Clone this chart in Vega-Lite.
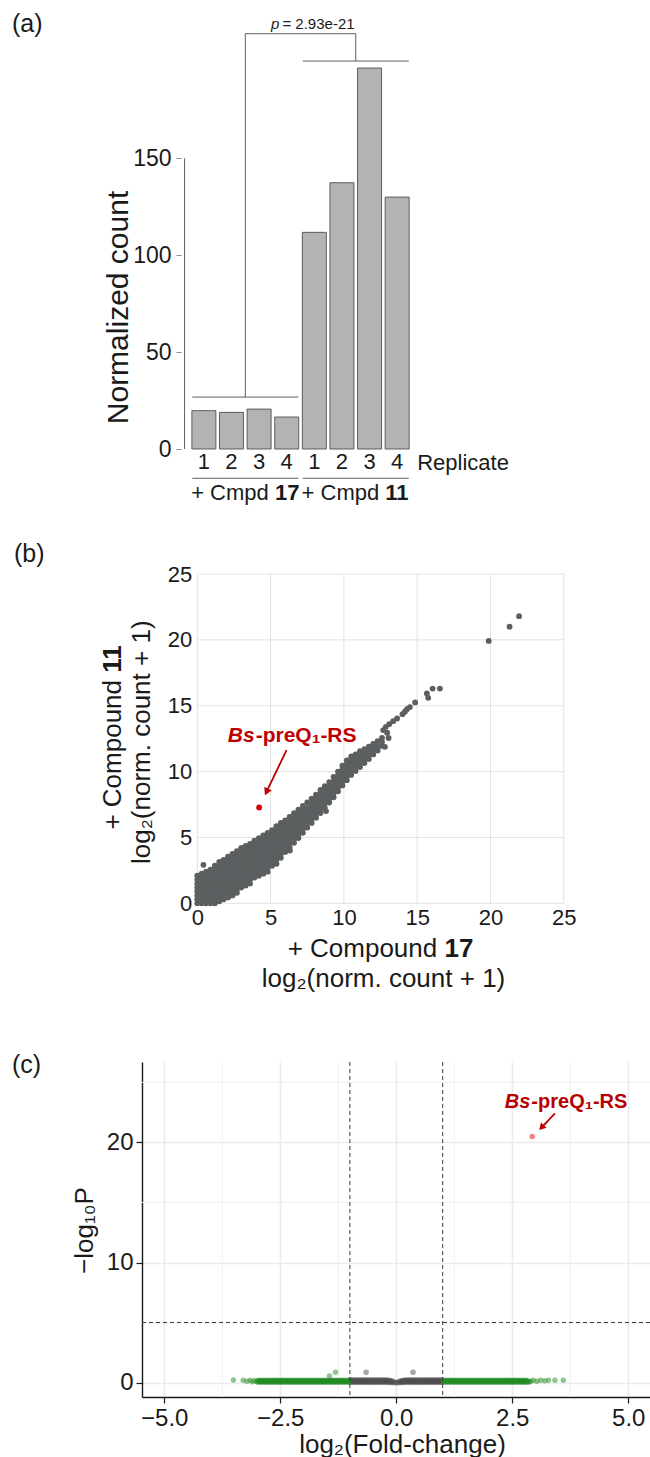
{
"$schema": "https://vega.github.io/schema/vega-lite/v6.json",
"autosize": {"type": "none"},
"padding": {"left": 142, "top": 0, "right": 508, "bottom": 1457},
"spacing": 0,
"bounds": "flush",
"config": {
 "font": "Liberation Sans",
 "view": {"stroke": null},
 "axis": {"labelColor": "#1a1a1a", "titleColor": "#1a1a1a", "titleFontWeight": "normal", "labelFlush": false, "labelOverlap": false, "labelBound": false},
 "title": {"fontWeight": "normal", "color": "#1a1a1a"}
},
"datasets": {
 "bars": [
  {"compound": "17", "replicate": "1", "idx": 1, "count": 19.8},
  {"compound": "17", "replicate": "2", "idx": 2, "count": 18.9},
  {"compound": "17", "replicate": "3", "idx": 3, "count": 20.6},
  {"compound": "17", "replicate": "4", "idx": 4, "count": 16.5},
  {"compound": "11", "replicate": "1", "idx": 5, "count": 111.8},
  {"compound": "11", "replicate": "2", "idx": 6, "count": 137.4},
  {"compound": "11", "replicate": "3", "idx": 7, "count": 196.6},
  {"compound": "11", "replicate": "4", "idx": 8, "count": 130.0}
 ],
 "volcano_ns": [
  {"lfc":-0.98,"nlp":0.02},{"lfc":-0.98,"nlp":0.22},{"lfc":-0.94,"nlp":0.05},{"lfc":-0.94,"nlp":0.19},{"lfc":-0.9,"nlp":0.02},{"lfc":-0.9,"nlp":0.22},{"lfc":-0.86,"nlp":0.05},{"lfc":-0.86,"nlp":0.19},
  {"lfc":-0.82,"nlp":0.02},{"lfc":-0.82,"nlp":0.22},{"lfc":-0.78,"nlp":0.05},{"lfc":-0.78,"nlp":0.19},{"lfc":-0.74,"nlp":0.02},{"lfc":-0.74,"nlp":0.22},{"lfc":-0.7,"nlp":0.05},{"lfc":-0.7,"nlp":0.19},
  {"lfc":-0.66,"nlp":0.02},{"lfc":-0.66,"nlp":0.22},{"lfc":-0.62,"nlp":0.05},{"lfc":-0.62,"nlp":0.19},{"lfc":-0.58,"nlp":0.02},{"lfc":-0.58,"nlp":0.22},{"lfc":-0.54,"nlp":0.05},{"lfc":-0.54,"nlp":0.19},
  {"lfc":-0.5,"nlp":0.02},{"lfc":-0.5,"nlp":0.22},{"lfc":-0.46,"nlp":0.05},{"lfc":-0.46,"nlp":0.19},{"lfc":-0.42,"nlp":0.02},{"lfc":-0.42,"nlp":0.22},{"lfc":-0.38,"nlp":0.05},{"lfc":-0.38,"nlp":0.19},
  {"lfc":-0.34,"nlp":0.02},{"lfc":-0.34,"nlp":0.22},{"lfc":-0.3,"nlp":0.05},{"lfc":-0.3,"nlp":0.19},{"lfc":-0.26,"nlp":0.02},{"lfc":-0.26,"nlp":0.22},{"lfc":-0.22,"nlp":0.05},{"lfc":-0.22,"nlp":0.19},
  {"lfc":-0.18,"nlp":0.02},{"lfc":-0.18,"nlp":0.21},{"lfc":-0.14,"nlp":0.04},{"lfc":-0.14,"nlp":0.17},{"lfc":-0.1,"nlp":0.02},{"lfc":-0.1,"nlp":0.14},{"lfc":-0.06,"nlp":0.01},{"lfc":-0.06,"nlp":0.08},
  {"lfc":-0.02,"nlp":0.0},{"lfc":0.02,"nlp":0.0},{"lfc":0.06,"nlp":0.01},{"lfc":0.06,"nlp":0.08},{"lfc":0.1,"nlp":0.02},{"lfc":0.1,"nlp":0.14},{"lfc":0.14,"nlp":0.04},{"lfc":0.14,"nlp":0.17},
  {"lfc":0.18,"nlp":0.02},{"lfc":0.18,"nlp":0.21},{"lfc":0.22,"nlp":0.05},{"lfc":0.22,"nlp":0.19},{"lfc":0.26,"nlp":0.02},{"lfc":0.26,"nlp":0.22},{"lfc":0.3,"nlp":0.05},{"lfc":0.3,"nlp":0.19},
  {"lfc":0.34,"nlp":0.02},{"lfc":0.34,"nlp":0.22},{"lfc":0.38,"nlp":0.05},{"lfc":0.38,"nlp":0.19},{"lfc":0.42,"nlp":0.02},{"lfc":0.42,"nlp":0.22},{"lfc":0.46,"nlp":0.05},{"lfc":0.46,"nlp":0.19},
  {"lfc":0.5,"nlp":0.02},{"lfc":0.5,"nlp":0.22},{"lfc":0.54,"nlp":0.05},{"lfc":0.54,"nlp":0.19},{"lfc":0.58,"nlp":0.02},{"lfc":0.58,"nlp":0.22},{"lfc":0.62,"nlp":0.05},{"lfc":0.62,"nlp":0.19},
  {"lfc":0.66,"nlp":0.02},{"lfc":0.66,"nlp":0.22},{"lfc":0.7,"nlp":0.05},{"lfc":0.7,"nlp":0.19},{"lfc":0.74,"nlp":0.02},{"lfc":0.74,"nlp":0.22},{"lfc":0.78,"nlp":0.05},{"lfc":0.78,"nlp":0.19},
  {"lfc":0.82,"nlp":0.02},{"lfc":0.82,"nlp":0.22},{"lfc":0.86,"nlp":0.05},{"lfc":0.86,"nlp":0.19},{"lfc":0.9,"nlp":0.02},{"lfc":0.9,"nlp":0.22},{"lfc":0.94,"nlp":0.05},{"lfc":0.94,"nlp":0.19},
  {"lfc":0.98,"nlp":0.02},{"lfc":0.98,"nlp":0.22},
  {"lfc":-0.96,"nlp":0.12},{"lfc":-0.92,"nlp":0.12},{"lfc":-0.88,"nlp":0.12},{"lfc":-0.84,"nlp":0.12},{"lfc":-0.8,"nlp":0.12},{"lfc":-0.76,"nlp":0.12},{"lfc":-0.72,"nlp":0.12},{"lfc":-0.68,"nlp":0.12},
  {"lfc":-0.64,"nlp":0.12},{"lfc":-0.6,"nlp":0.12},{"lfc":-0.56,"nlp":0.12},{"lfc":-0.52,"nlp":0.12},{"lfc":-0.48,"nlp":0.12},{"lfc":-0.44,"nlp":0.12},{"lfc":-0.4,"nlp":0.12},{"lfc":-0.36,"nlp":0.12},
  {"lfc":-0.32,"nlp":0.12},{"lfc":-0.28,"nlp":0.12},{"lfc":-0.24,"nlp":0.12},{"lfc":-0.2,"nlp":0.12},{"lfc":-0.16,"nlp":0.1},{"lfc":-0.12,"nlp":0.08},
  {"lfc":0.12,"nlp":0.08},{"lfc":0.16,"nlp":0.1},{"lfc":0.2,"nlp":0.12},{"lfc":0.24,"nlp":0.12},{"lfc":0.28,"nlp":0.12},{"lfc":0.32,"nlp":0.12},{"lfc":0.36,"nlp":0.12},{"lfc":0.4,"nlp":0.12},
  {"lfc":0.44,"nlp":0.12},{"lfc":0.48,"nlp":0.12},{"lfc":0.52,"nlp":0.12},{"lfc":0.56,"nlp":0.12},{"lfc":0.6,"nlp":0.12},{"lfc":0.64,"nlp":0.12},{"lfc":0.68,"nlp":0.12},{"lfc":0.72,"nlp":0.12},
  {"lfc":0.76,"nlp":0.12},{"lfc":0.8,"nlp":0.12},{"lfc":0.84,"nlp":0.12},{"lfc":0.88,"nlp":0.12},{"lfc":0.92,"nlp":0.12},{"lfc":0.96,"nlp":0.12},
  {"lfc":-0.65,"nlp":0.86},{"lfc":0.36,"nlp":0.86}
 ],
 "volcano_fc": [
  {"lfc":-3.51,"nlp":0.22},{"lfc":-3.3,"nlp":0.2},{"lfc":-3.22,"nlp":0.12},{"lfc":-3.15,"nlp":0.2},{"lfc":-3.1,"nlp":0.06},{"lfc":-3.05,"nlp":0.18},{"lfc":-3.01,"nlp":0.1},
  {"lfc":-2.98,"nlp":0.03},{"lfc":-2.98,"nlp":0.18},{"lfc":-2.94,"nlp":0.05},{"lfc":-2.94,"nlp":0.2},{"lfc":-2.9,"nlp":0.03},{"lfc":-2.9,"nlp":0.18},{"lfc":-2.86,"nlp":0.05},{"lfc":-2.86,"nlp":0.2},
  {"lfc":-2.82,"nlp":0.03},{"lfc":-2.82,"nlp":0.18},{"lfc":-2.78,"nlp":0.05},{"lfc":-2.78,"nlp":0.2},{"lfc":-2.74,"nlp":0.03},{"lfc":-2.74,"nlp":0.18},{"lfc":-2.7,"nlp":0.05},{"lfc":-2.7,"nlp":0.2},
  {"lfc":-2.66,"nlp":0.03},{"lfc":-2.66,"nlp":0.18},{"lfc":-2.62,"nlp":0.05},{"lfc":-2.62,"nlp":0.2},{"lfc":-2.58,"nlp":0.03},{"lfc":-2.58,"nlp":0.18},{"lfc":-2.54,"nlp":0.05},{"lfc":-2.54,"nlp":0.2},
  {"lfc":-2.5,"nlp":0.03},{"lfc":-2.5,"nlp":0.18},{"lfc":-2.46,"nlp":0.05},{"lfc":-2.46,"nlp":0.2},{"lfc":-2.42,"nlp":0.03},{"lfc":-2.42,"nlp":0.18},{"lfc":-2.38,"nlp":0.05},{"lfc":-2.38,"nlp":0.2},
  {"lfc":-2.34,"nlp":0.03},{"lfc":-2.34,"nlp":0.18},{"lfc":-2.3,"nlp":0.05},{"lfc":-2.3,"nlp":0.2},{"lfc":-2.26,"nlp":0.03},{"lfc":-2.26,"nlp":0.18},{"lfc":-2.22,"nlp":0.05},{"lfc":-2.22,"nlp":0.2},
  {"lfc":-2.18,"nlp":0.03},{"lfc":-2.18,"nlp":0.18},{"lfc":-2.14,"nlp":0.05},{"lfc":-2.14,"nlp":0.2},{"lfc":-2.1,"nlp":0.03},{"lfc":-2.1,"nlp":0.18},{"lfc":-2.06,"nlp":0.05},{"lfc":-2.06,"nlp":0.2},
  {"lfc":-2.02,"nlp":0.03},{"lfc":-2.02,"nlp":0.18},{"lfc":-1.98,"nlp":0.05},{"lfc":-1.98,"nlp":0.2},{"lfc":-1.94,"nlp":0.03},{"lfc":-1.94,"nlp":0.18},{"lfc":-1.9,"nlp":0.05},{"lfc":-1.9,"nlp":0.2},
  {"lfc":-1.86,"nlp":0.03},{"lfc":-1.86,"nlp":0.18},{"lfc":-1.82,"nlp":0.05},{"lfc":-1.82,"nlp":0.2},{"lfc":-1.78,"nlp":0.03},{"lfc":-1.78,"nlp":0.18},{"lfc":-1.74,"nlp":0.05},{"lfc":-1.74,"nlp":0.2},
  {"lfc":-1.7,"nlp":0.03},{"lfc":-1.7,"nlp":0.18},{"lfc":-1.66,"nlp":0.05},{"lfc":-1.66,"nlp":0.2},{"lfc":-1.62,"nlp":0.03},{"lfc":-1.62,"nlp":0.18},{"lfc":-1.58,"nlp":0.05},{"lfc":-1.58,"nlp":0.2},
  {"lfc":-1.54,"nlp":0.03},{"lfc":-1.54,"nlp":0.18},{"lfc":-1.5,"nlp":0.05},{"lfc":-1.5,"nlp":0.2},{"lfc":-1.46,"nlp":0.03},{"lfc":-1.46,"nlp":0.18},{"lfc":-1.42,"nlp":0.05},{"lfc":-1.42,"nlp":0.2},
  {"lfc":-1.38,"nlp":0.03},{"lfc":-1.38,"nlp":0.18},{"lfc":-1.34,"nlp":0.05},{"lfc":-1.34,"nlp":0.2},{"lfc":-1.3,"nlp":0.03},{"lfc":-1.3,"nlp":0.18},{"lfc":-1.26,"nlp":0.05},{"lfc":-1.26,"nlp":0.2},
  {"lfc":-1.22,"nlp":0.03},{"lfc":-1.22,"nlp":0.18},{"lfc":-1.18,"nlp":0.05},{"lfc":-1.18,"nlp":0.2},{"lfc":-1.14,"nlp":0.03},{"lfc":-1.14,"nlp":0.18},{"lfc":-1.1,"nlp":0.05},{"lfc":-1.1,"nlp":0.2},
  {"lfc":-1.06,"nlp":0.03},{"lfc":-1.06,"nlp":0.18},{"lfc":-1.02,"nlp":0.05},{"lfc":-1.02,"nlp":0.2},
  {"lfc":-2.96,"nlp":0.12},{"lfc":-2.92,"nlp":0.12},{"lfc":-2.88,"nlp":0.12},{"lfc":-2.84,"nlp":0.12},{"lfc":-2.8,"nlp":0.12},{"lfc":-2.76,"nlp":0.12},{"lfc":-2.72,"nlp":0.12},{"lfc":-2.68,"nlp":0.12},
  {"lfc":-2.64,"nlp":0.12},{"lfc":-2.6,"nlp":0.12},{"lfc":-2.56,"nlp":0.12},{"lfc":-2.52,"nlp":0.12},{"lfc":-2.48,"nlp":0.12},{"lfc":-2.44,"nlp":0.12},{"lfc":-2.4,"nlp":0.12},{"lfc":-2.36,"nlp":0.12},
  {"lfc":-2.32,"nlp":0.12},{"lfc":-2.28,"nlp":0.12},{"lfc":-2.24,"nlp":0.12},{"lfc":-2.2,"nlp":0.12},{"lfc":-2.16,"nlp":0.12},{"lfc":-2.12,"nlp":0.12},{"lfc":-2.08,"nlp":0.12},{"lfc":-2.04,"nlp":0.12},
  {"lfc":-2.0,"nlp":0.12},{"lfc":-1.96,"nlp":0.12},{"lfc":-1.92,"nlp":0.12},{"lfc":-1.88,"nlp":0.12},{"lfc":-1.84,"nlp":0.12},{"lfc":-1.8,"nlp":0.12},{"lfc":-1.76,"nlp":0.12},{"lfc":-1.72,"nlp":0.12},
  {"lfc":-1.68,"nlp":0.12},{"lfc":-1.64,"nlp":0.12},{"lfc":-1.6,"nlp":0.12},{"lfc":-1.56,"nlp":0.12},{"lfc":-1.52,"nlp":0.12},{"lfc":-1.48,"nlp":0.12},{"lfc":-1.44,"nlp":0.12},{"lfc":-1.4,"nlp":0.12},
  {"lfc":-1.36,"nlp":0.12},{"lfc":-1.32,"nlp":0.12},{"lfc":-1.28,"nlp":0.12},{"lfc":-1.24,"nlp":0.12},{"lfc":-1.2,"nlp":0.12},{"lfc":-1.16,"nlp":0.12},{"lfc":-1.12,"nlp":0.12},{"lfc":-1.08,"nlp":0.12},
  {"lfc":-1.04,"nlp":0.12},
  {"lfc":-1.31,"nlp":0.86},{"lfc":-1.44,"nlp":0.55},
  {"lfc":1.02,"nlp":0.05},{"lfc":1.02,"nlp":0.2},{"lfc":1.06,"nlp":0.03},{"lfc":1.06,"nlp":0.18},{"lfc":1.1,"nlp":0.05},{"lfc":1.1,"nlp":0.2},{"lfc":1.14,"nlp":0.03},{"lfc":1.14,"nlp":0.18},
  {"lfc":1.18,"nlp":0.05},{"lfc":1.18,"nlp":0.2},{"lfc":1.22,"nlp":0.03},{"lfc":1.22,"nlp":0.18},{"lfc":1.26,"nlp":0.05},{"lfc":1.26,"nlp":0.2},{"lfc":1.3,"nlp":0.03},{"lfc":1.3,"nlp":0.18},
  {"lfc":1.34,"nlp":0.05},{"lfc":1.34,"nlp":0.2},{"lfc":1.38,"nlp":0.03},{"lfc":1.38,"nlp":0.18},{"lfc":1.42,"nlp":0.05},{"lfc":1.42,"nlp":0.2},{"lfc":1.46,"nlp":0.03},{"lfc":1.46,"nlp":0.18},
  {"lfc":1.5,"nlp":0.05},{"lfc":1.5,"nlp":0.2},{"lfc":1.54,"nlp":0.03},{"lfc":1.54,"nlp":0.18},{"lfc":1.58,"nlp":0.05},{"lfc":1.58,"nlp":0.2},{"lfc":1.62,"nlp":0.03},{"lfc":1.62,"nlp":0.18},
  {"lfc":1.66,"nlp":0.05},{"lfc":1.66,"nlp":0.2},{"lfc":1.7,"nlp":0.03},{"lfc":1.7,"nlp":0.18},{"lfc":1.74,"nlp":0.05},{"lfc":1.74,"nlp":0.2},{"lfc":1.78,"nlp":0.03},{"lfc":1.78,"nlp":0.18},
  {"lfc":1.82,"nlp":0.05},{"lfc":1.82,"nlp":0.2},{"lfc":1.86,"nlp":0.03},{"lfc":1.86,"nlp":0.18},{"lfc":1.9,"nlp":0.05},{"lfc":1.9,"nlp":0.2},{"lfc":1.94,"nlp":0.03},{"lfc":1.94,"nlp":0.18},
  {"lfc":1.98,"nlp":0.05},{"lfc":1.98,"nlp":0.2},{"lfc":2.02,"nlp":0.03},{"lfc":2.02,"nlp":0.18},{"lfc":2.06,"nlp":0.05},{"lfc":2.06,"nlp":0.2},{"lfc":2.1,"nlp":0.03},{"lfc":2.1,"nlp":0.18},
  {"lfc":2.14,"nlp":0.05},{"lfc":2.14,"nlp":0.2},{"lfc":2.18,"nlp":0.03},{"lfc":2.18,"nlp":0.18},{"lfc":2.22,"nlp":0.05},{"lfc":2.22,"nlp":0.2},{"lfc":2.26,"nlp":0.03},{"lfc":2.26,"nlp":0.18},
  {"lfc":2.3,"nlp":0.05},{"lfc":2.3,"nlp":0.2},{"lfc":2.34,"nlp":0.03},{"lfc":2.34,"nlp":0.18},{"lfc":2.38,"nlp":0.05},{"lfc":2.38,"nlp":0.2},{"lfc":2.42,"nlp":0.03},{"lfc":2.42,"nlp":0.18},
  {"lfc":2.46,"nlp":0.05},{"lfc":2.46,"nlp":0.2},{"lfc":2.5,"nlp":0.03},{"lfc":2.5,"nlp":0.18},{"lfc":2.54,"nlp":0.05},{"lfc":2.54,"nlp":0.2},{"lfc":2.58,"nlp":0.03},{"lfc":2.58,"nlp":0.18},
  {"lfc":2.62,"nlp":0.05},{"lfc":2.62,"nlp":0.2},{"lfc":2.66,"nlp":0.03},{"lfc":2.66,"nlp":0.18},{"lfc":2.7,"nlp":0.05},{"lfc":2.7,"nlp":0.2},{"lfc":2.74,"nlp":0.03},{"lfc":2.74,"nlp":0.18},
  {"lfc":2.78,"nlp":0.05},{"lfc":2.78,"nlp":0.2},{"lfc":2.82,"nlp":0.03},{"lfc":2.82,"nlp":0.18},{"lfc":2.86,"nlp":0.05},
  {"lfc":1.04,"nlp":0.12},{"lfc":1.08,"nlp":0.12},{"lfc":1.12,"nlp":0.12},{"lfc":1.16,"nlp":0.12},{"lfc":1.2,"nlp":0.12},{"lfc":1.24,"nlp":0.12},{"lfc":1.28,"nlp":0.12},{"lfc":1.32,"nlp":0.12},
  {"lfc":1.36,"nlp":0.12},{"lfc":1.4,"nlp":0.12},{"lfc":1.44,"nlp":0.12},{"lfc":1.48,"nlp":0.12},{"lfc":1.52,"nlp":0.12},{"lfc":1.56,"nlp":0.12},{"lfc":1.6,"nlp":0.12},{"lfc":1.64,"nlp":0.12},
  {"lfc":1.68,"nlp":0.12},{"lfc":1.72,"nlp":0.12},{"lfc":1.76,"nlp":0.12},{"lfc":1.8,"nlp":0.12},{"lfc":1.84,"nlp":0.12},{"lfc":1.88,"nlp":0.12},{"lfc":1.92,"nlp":0.12},{"lfc":1.96,"nlp":0.12},
  {"lfc":2.0,"nlp":0.12},{"lfc":2.04,"nlp":0.12},{"lfc":2.08,"nlp":0.12},{"lfc":2.12,"nlp":0.12},{"lfc":2.16,"nlp":0.12},{"lfc":2.2,"nlp":0.12},{"lfc":2.24,"nlp":0.12},{"lfc":2.28,"nlp":0.12},
  {"lfc":2.32,"nlp":0.12},{"lfc":2.36,"nlp":0.12},{"lfc":2.4,"nlp":0.12},{"lfc":2.44,"nlp":0.12},{"lfc":2.48,"nlp":0.12},{"lfc":2.52,"nlp":0.12},{"lfc":2.56,"nlp":0.12},{"lfc":2.6,"nlp":0.12},
  {"lfc":2.64,"nlp":0.12},{"lfc":2.68,"nlp":0.12},{"lfc":2.72,"nlp":0.12},{"lfc":2.76,"nlp":0.12},{"lfc":2.8,"nlp":0.12},{"lfc":2.84,"nlp":0.12},
  {"lfc":2.9,"nlp":0.1},{"lfc":2.95,"nlp":0.2},{"lfc":3.03,"nlp":0.12},{"lfc":3.11,"nlp":0.2},{"lfc":3.2,"nlp":0.15},{"lfc":3.28,"nlp":0.2},{"lfc":3.42,"nlp":0.2},{"lfc":3.6,"nlp":0.2}
 ],
 "volcano_pfc": [{"lfc": 2.93, "nlp": 20.5, "gene": "Bs-preQ1-RS"}],
 "scatter": [
  {"c17":0,"c11":0},{"c17":0,"c11":0.3},{"c17":0,"c11":0.6},{"c17":0,"c11":0.9},{"c17":0,"c11":1.2},{"c17":0,"c11":1.5},{"c17":0,"c11":1.8},{"c17":0,"c11":2.1},
  {"c17":0.3,"c11":0},{"c17":0.3,"c11":0.15},{"c17":0.3,"c11":0.45},{"c17":0.3,"c11":0.75},{"c17":0.3,"c11":1.05},{"c17":0.3,"c11":1.35},{"c17":0.3,"c11":1.65},{"c17":0.3,"c11":1.95},{"c17":0.3,"c11":2.25},
  {"c17":0.6,"c11":0},{"c17":0.6,"c11":0.3},{"c17":0.6,"c11":0.6},{"c17":0.6,"c11":0.9},{"c17":0.6,"c11":1.2},{"c17":0.6,"c11":1.5},{"c17":0.6,"c11":1.8},{"c17":0.6,"c11":2.1},{"c17":0.6,"c11":2.4},
  {"c17":0.9,"c11":0},{"c17":0.9,"c11":0.15},{"c17":0.9,"c11":0.45},{"c17":0.9,"c11":0.75},{"c17":0.9,"c11":1.05},{"c17":0.9,"c11":1.35},{"c17":0.9,"c11":1.65},{"c17":0.9,"c11":1.95},{"c17":0.9,"c11":2.25},{"c17":0.9,"c11":2.55},
  {"c17":1.2,"c11":0},{"c17":1.2,"c11":0.3},{"c17":1.2,"c11":0.6},{"c17":1.2,"c11":0.9},{"c17":1.2,"c11":1.2},{"c17":1.2,"c11":1.5},{"c17":1.2,"c11":1.8},{"c17":1.2,"c11":2.1},{"c17":1.2,"c11":2.4},{"c17":1.2,"c11":2.7},{"c17":1.2,"c11":2.85},
  {"c17":1.5,"c11":0.15},{"c17":1.5,"c11":0.45},{"c17":1.5,"c11":0.75},{"c17":1.5,"c11":1.05},{"c17":1.5,"c11":1.35},{"c17":1.5,"c11":1.65},{"c17":1.5,"c11":1.95},{"c17":1.5,"c11":2.25},{"c17":1.5,"c11":2.55},{"c17":1.5,"c11":2.85},{"c17":1.5,"c11":3.15},
  {"c17":1.8,"c11":0.3},{"c17":1.8,"c11":0.6},{"c17":1.8,"c11":0.9},{"c17":1.8,"c11":1.2},{"c17":1.8,"c11":1.5},{"c17":1.8,"c11":1.8},{"c17":1.8,"c11":2.1},{"c17":1.8,"c11":2.4},{"c17":1.8,"c11":2.7},{"c17":1.8,"c11":3.0},{"c17":1.8,"c11":3.3},
  {"c17":2.1,"c11":0.45},{"c17":2.1,"c11":0.75},{"c17":2.1,"c11":1.05},{"c17":2.1,"c11":1.35},{"c17":2.1,"c11":1.65},{"c17":2.1,"c11":1.95},{"c17":2.1,"c11":2.25},{"c17":2.1,"c11":2.55},{"c17":2.1,"c11":2.85},{"c17":2.1,"c11":3.15},{"c17":2.1,"c11":3.45},{"c17":2.1,"c11":3.55},
  {"c17":2.4,"c11":0.6},{"c17":2.4,"c11":0.9},{"c17":2.4,"c11":1.2},{"c17":2.4,"c11":1.5},{"c17":2.4,"c11":1.8},{"c17":2.4,"c11":2.1},{"c17":2.4,"c11":2.4},{"c17":2.4,"c11":2.7},{"c17":2.4,"c11":3.0},{"c17":2.4,"c11":3.3},{"c17":2.4,"c11":3.6},{"c17":2.4,"c11":3.75},
  {"c17":2.7,"c11":0.8},{"c17":2.7,"c11":1.05},{"c17":2.7,"c11":1.35},{"c17":2.7,"c11":1.65},{"c17":2.7,"c11":1.95},{"c17":2.7,"c11":2.25},{"c17":2.7,"c11":2.55},{"c17":2.7,"c11":2.85},{"c17":2.7,"c11":3.15},{"c17":2.7,"c11":3.45},{"c17":2.7,"c11":3.75},{"c17":2.7,"c11":3.95},
  {"c17":3.0,"c11":1.2},{"c17":3.0,"c11":1.5},{"c17":3.0,"c11":1.8},{"c17":3.0,"c11":2.1},{"c17":3.0,"c11":2.4},{"c17":3.0,"c11":2.7},{"c17":3.0,"c11":3.0},{"c17":3.0,"c11":3.3},{"c17":3.0,"c11":3.6},{"c17":3.0,"c11":3.9},{"c17":3.0,"c11":4.2},
  {"c17":3.3,"c11":1.35},{"c17":3.3,"c11":1.65},{"c17":3.3,"c11":1.95},{"c17":3.3,"c11":2.25},{"c17":3.3,"c11":2.55},{"c17":3.3,"c11":2.85},{"c17":3.3,"c11":3.15},{"c17":3.3,"c11":3.45},{"c17":3.3,"c11":3.75},{"c17":3.3,"c11":4.05},{"c17":3.3,"c11":4.35},
  {"c17":3.6,"c11":1.5},{"c17":3.6,"c11":1.8},{"c17":3.6,"c11":2.1},{"c17":3.6,"c11":2.4},{"c17":3.6,"c11":2.7},{"c17":3.6,"c11":3.0},{"c17":3.6,"c11":3.3},{"c17":3.6,"c11":3.6},{"c17":3.6,"c11":3.9},{"c17":3.6,"c11":4.2},{"c17":3.6,"c11":4.5},
  {"c17":3.9,"c11":1.95},{"c17":3.9,"c11":2.25},{"c17":3.9,"c11":2.55},{"c17":3.9,"c11":2.85},{"c17":3.9,"c11":3.15},{"c17":3.9,"c11":3.45},{"c17":3.9,"c11":3.75},{"c17":3.9,"c11":4.05},{"c17":3.9,"c11":4.35},{"c17":3.9,"c11":4.65},{"c17":3.9,"c11":4.75},
  {"c17":4.2,"c11":2.1},{"c17":4.2,"c11":2.4},{"c17":4.2,"c11":2.7},{"c17":4.2,"c11":3.0},{"c17":4.2,"c11":3.3},{"c17":4.2,"c11":3.6},{"c17":4.2,"c11":3.9},{"c17":4.2,"c11":4.2},{"c17":4.2,"c11":4.5},{"c17":4.2,"c11":4.8},{"c17":4.2,"c11":4.95},
  {"c17":4.5,"c11":2.25},{"c17":4.5,"c11":2.55},{"c17":4.5,"c11":2.85},{"c17":4.5,"c11":3.15},{"c17":4.5,"c11":3.45},{"c17":4.5,"c11":3.75},{"c17":4.5,"c11":4.05},{"c17":4.5,"c11":4.35},{"c17":4.5,"c11":4.65},{"c17":4.5,"c11":4.95},{"c17":4.5,"c11":5.15},
  {"c17":4.8,"c11":2.4},{"c17":4.8,"c11":2.7},{"c17":4.8,"c11":3.0},{"c17":4.8,"c11":3.3},{"c17":4.8,"c11":3.6},{"c17":4.8,"c11":3.9},{"c17":4.8,"c11":4.2},{"c17":4.8,"c11":4.5},{"c17":4.8,"c11":4.8},{"c17":4.8,"c11":5.1},{"c17":4.8,"c11":5.35},
  {"c17":5.1,"c11":2.85},{"c17":5.1,"c11":3.15},{"c17":5.1,"c11":3.45},{"c17":5.1,"c11":3.75},{"c17":5.1,"c11":4.05},{"c17":5.1,"c11":4.35},{"c17":5.1,"c11":4.65},{"c17":5.1,"c11":4.95},{"c17":5.1,"c11":5.25},{"c17":5.1,"c11":5.55},
  {"c17":5.4,"c11":3.0},{"c17":5.4,"c11":3.3},{"c17":5.4,"c11":3.6},{"c17":5.4,"c11":3.9},{"c17":5.4,"c11":4.2},{"c17":5.4,"c11":4.5},{"c17":5.4,"c11":4.8},{"c17":5.4,"c11":5.1},{"c17":5.4,"c11":5.4},{"c17":5.4,"c11":5.7},{"c17":5.4,"c11":5.85},
  {"c17":5.7,"c11":3.45},{"c17":5.7,"c11":3.75},{"c17":5.7,"c11":4.05},{"c17":5.7,"c11":4.35},{"c17":5.7,"c11":4.65},{"c17":5.7,"c11":4.95},{"c17":5.7,"c11":5.25},{"c17":5.7,"c11":5.55},{"c17":5.7,"c11":5.85},{"c17":5.7,"c11":6.1},
  {"c17":6.0,"c11":3.9},{"c17":6.0,"c11":4.2},{"c17":6.0,"c11":4.5},{"c17":6.0,"c11":4.8},{"c17":6.0,"c11":5.1},{"c17":6.0,"c11":5.4},{"c17":6.0,"c11":5.7},{"c17":6.0,"c11":6.0},{"c17":6.0,"c11":6.3},
  {"c17":6.3,"c11":4.25},{"c17":6.3,"c11":4.55},{"c17":6.3,"c11":4.85},{"c17":6.3,"c11":5.15},{"c17":6.3,"c11":5.45},{"c17":6.3,"c11":5.75},{"c17":6.3,"c11":6.05},{"c17":6.3,"c11":6.35},{"c17":6.3,"c11":6.55},
  {"c17":6.6,"c11":4.6},{"c17":6.6,"c11":4.9},{"c17":6.6,"c11":5.2},{"c17":6.6,"c11":5.5},{"c17":6.6,"c11":5.8},{"c17":6.6,"c11":6.1},{"c17":6.6,"c11":6.4},{"c17":6.6,"c11":6.7},{"c17":6.6,"c11":6.85},
  {"c17":6.9,"c11":4.95},{"c17":6.9,"c11":5.25},{"c17":6.9,"c11":5.55},{"c17":6.9,"c11":5.85},{"c17":6.9,"c11":6.15},{"c17":6.9,"c11":6.45},{"c17":6.9,"c11":6.75},{"c17":6.9,"c11":7.1},
  {"c17":7.2,"c11":5.35},{"c17":7.2,"c11":5.65},{"c17":7.2,"c11":5.95},{"c17":7.2,"c11":6.25},{"c17":7.2,"c11":6.55},{"c17":7.2,"c11":6.85},{"c17":7.2,"c11":7.15},{"c17":7.2,"c11":7.4},
  {"c17":7.5,"c11":5.75},{"c17":7.5,"c11":6.05},{"c17":7.5,"c11":6.35},{"c17":7.5,"c11":6.65},{"c17":7.5,"c11":6.95},{"c17":7.5,"c11":7.25},{"c17":7.5,"c11":7.65},
  {"c17":7.8,"c11":6.1},{"c17":7.8,"c11":6.4},{"c17":7.8,"c11":6.7},{"c17":7.8,"c11":7.0},{"c17":7.8,"c11":7.3},{"c17":7.8,"c11":7.6},{"c17":7.8,"c11":7.95},
  {"c17":8.1,"c11":6.5},{"c17":8.1,"c11":6.8},{"c17":8.1,"c11":7.1},{"c17":8.1,"c11":7.4},{"c17":8.1,"c11":7.7},{"c17":8.1,"c11":8.0},{"c17":8.1,"c11":8.25},
  {"c17":8.4,"c11":6.85},{"c17":8.4,"c11":7.15},{"c17":8.4,"c11":7.45},{"c17":8.4,"c11":7.75},{"c17":8.4,"c11":8.05},{"c17":8.4,"c11":8.35},{"c17":8.4,"c11":8.6},
  {"c17":8.7,"c11":7.25},{"c17":8.7,"c11":7.55},{"c17":8.7,"c11":7.85},{"c17":8.7,"c11":8.15},{"c17":8.7,"c11":8.45},{"c17":8.7,"c11":8.75},{"c17":8.7,"c11":8.9},
  {"c17":9.0,"c11":7.65},{"c17":9.0,"c11":7.95},{"c17":9.0,"c11":8.25},{"c17":9.0,"c11":8.55},{"c17":9.0,"c11":8.85},{"c17":9.0,"c11":9.2},
  {"c17":9.3,"c11":8.05},{"c17":9.3,"c11":8.35},{"c17":9.3,"c11":8.65},{"c17":9.3,"c11":8.95},{"c17":9.3,"c11":9.25},{"c17":9.3,"c11":9.6},
  {"c17":9.6,"c11":8.5},{"c17":9.6,"c11":8.8},{"c17":9.6,"c11":9.1},{"c17":9.6,"c11":9.4},{"c17":9.6,"c11":9.7},{"c17":9.6,"c11":10.0},
  {"c17":9.9,"c11":8.95},{"c17":9.9,"c11":9.25},{"c17":9.9,"c11":9.55},{"c17":9.9,"c11":9.85},{"c17":9.9,"c11":10.15},{"c17":9.9,"c11":10.45},
  {"c17":10.2,"c11":9.35},{"c17":10.2,"c11":9.65},{"c17":10.2,"c11":9.95},{"c17":10.2,"c11":10.25},{"c17":10.2,"c11":10.55},{"c17":10.2,"c11":10.85},
  {"c17":10.5,"c11":9.75},{"c17":10.5,"c11":10.05},{"c17":10.5,"c11":10.35},{"c17":10.5,"c11":10.65},{"c17":10.5,"c11":10.95},{"c17":10.5,"c11":11.15},
  {"c17":10.8,"c11":10.05},{"c17":10.8,"c11":10.35},{"c17":10.8,"c11":10.65},{"c17":10.8,"c11":10.95},{"c17":10.8,"c11":11.3},
  {"c17":11.1,"c11":10.35},{"c17":11.1,"c11":10.65},{"c17":11.1,"c11":10.95},{"c17":11.1,"c11":11.25},{"c17":11.1,"c11":11.55},
  {"c17":11.4,"c11":10.65},{"c17":11.4,"c11":10.95},{"c17":11.4,"c11":11.25},{"c17":11.4,"c11":11.55},{"c17":11.4,"c11":11.7},
  {"c17":11.7,"c11":10.95},{"c17":11.7,"c11":11.25},{"c17":11.7,"c11":11.55},{"c17":11.7,"c11":11.9},
  {"c17":12.0,"c11":11.3},{"c17":12.0,"c11":11.6},{"c17":12.0,"c11":11.9},{"c17":12.0,"c11":12.1},
  {"c17":12.3,"c11":11.6},{"c17":12.3,"c11":11.9},{"c17":12.3,"c11":12.3},
  {"c17":12.6,"c11":11.95},{"c17":12.6,"c11":12.25},{"c17":12.6,"c11":12.55},
  {"c17":0.42,"c11":2.92},{"c17":6.32,"c11":4.0},{"c17":8.78,"c11":7.0},{"c17":12.8,"c11":11.88},{"c17":13.05,"c11":12.55},{"c17":12.95,"c11":12.95},
  {"c17":12.68,"c11":13.15},{"c17":12.86,"c11":13.4},{"c17":13.09,"c11":13.6},{"c17":13.36,"c11":13.83},{"c17":13.63,"c11":14.03},
  {"c17":14.0,"c11":14.36},{"c17":14.16,"c11":14.54},{"c17":14.3,"c11":14.74},{"c17":14.5,"c11":14.9},{"c17":14.86,"c11":15.25},
  {"c17":15.66,"c11":15.93},{"c17":15.75,"c11":15.6},{"c17":16.05,"c11":16.3},{"c17":16.55,"c11":16.3},
  {"c17":19.88,"c11":19.92},{"c17":21.3,"c11":21.0},{"c17":21.95,"c11":21.8}
 ]
},
"vconcat": [
{
 "width": 279.5, "height": 449,
 "title": {"text": "(a)", "anchor": "start", "frame": "group", "orient": "top", "offset": 0, "dx": -130, "dy": 57, "baseline": "alphabetic", "fontSize": 25},
 "layer": [
  {
   "data": {"name": "bars"},
   "mark": {"type": "bar", "orient": "vertical", "width": 24, "fill": "#b3b3b3", "stroke": "#505050", "strokeWidth": 0.9},
   "encoding": {
    "x": {"field": "idx", "type": "quantitative", "scale": {"domain": [-1.06, 8.7], "nice": false, "zero": false},
     "axis": {"values": [1,2,3,4,5,6,7,8], "labels": false, "domain": false, "ticks": false, "tickSize": 0, "grid": false,
      "title": "Replicate", "titleFontSize": 22, "titleX": 274.7, "titleY": 20, "titleAlign": "left", "titleBaseline": "alphabetic", "titleAngle": 0}},
    "y": {"field": "count", "type": "quantitative", "scale": {"domain": [0, 231.7], "nice": false},
     "axis": {"values": [0, 50, 100, 150], "offset": -39, "domain": false, "grid": false, "labelOverlap": false, "tickSize": 5, "tickColor": "#8c8c8c", "tickWidth": 1, "labelPadding": 5, "labelFontSize": 23,
      "title": "Normalized count", "titleFontSize": 30, "titleX": -54, "titleY": 307, "titleAngle": 270, "titleBaseline": "alphabetic"}}
   }
  },
  {
   "data": {"name": "bars"},
   "mark": {"type": "text", "baseline": "alphabetic", "align": "center", "fontSize": 22, "color": "#1a1a1a"},
   "encoding": {
    "x": {"field": "idx", "type": "quantitative"},
    "y": {"datum": -10.5, "type": "quantitative"},
    "text": {"field": "replicate"}
   }
  },
  {
   "data": {"values": [
    {"part": "y axis line", "x_from": 0.3, "x_to": 0.3, "y_from": 0, "y_to": 150},
    {"part": "group 17", "x_from": 0.58, "x_to": 4.42, "y_from": 26.8, "y_to": 26.8},
    {"part": "group 11", "x_from": 4.58, "x_to": 8.42, "y_from": 200.2, "y_to": 200.2},
    {"part": "bracket left", "x_from": 2.5, "x_to": 2.5, "y_from": 26.8, "y_to": 214.3},
    {"part": "bracket top", "x_from": 2.5, "x_to": 6.5, "y_from": 214.3, "y_to": 214.3},
    {"part": "bracket right", "x_from": 6.5, "x_to": 6.5, "y_from": 214.3, "y_to": 200.2},
    {"part": "underline 17", "x_from": 0.58, "x_to": 4.42, "y_from": -15.1, "y_to": -15.1},
    {"part": "underline 11", "x_from": 4.58, "x_to": 8.42, "y_from": -15.1, "y_to": -15.1}
   ]},
   "mark": {"type": "rule", "color": "#5e5e5e", "strokeWidth": 1},
   "encoding": {
    "x": {"field": "x_from", "type": "quantitative"}, "x2": {"field": "x_to"},
    "y": {"field": "y_from", "type": "quantitative"}, "y2": {"field": "y_to"}
   }
  },
  {
   "data": {"values": [{"x": 3.79, "y": 216.6, "var": "p", "val": "= 2.93e-21"}]},
   "layer": [
    {"mark": {"type": "text", "align": "right", "baseline": "alphabetic", "dx": -1.5, "fontSize": 15, "fontStyle": "italic", "color": "#1a1a1a"},
     "encoding": {"x": {"field": "x", "type": "quantitative"}, "y": {"field": "y", "type": "quantitative"}, "text": {"field": "var"}}},
    {"mark": {"type": "text", "align": "left", "baseline": "alphabetic", "dx": 1.5, "fontSize": 15, "color": "#1a1a1a"},
     "encoding": {"x": {"field": "x", "type": "quantitative"}, "y": {"field": "y", "type": "quantitative"}, "text": {"field": "val"}}}
   ]
  },
  {
   "data": {"values": [
    {"center": 2.5, "y": -26.1, "pre": "+ Cmpd", "num": "17"},
    {"center": 6.5, "y": -26.1, "pre": "+ Cmpd", "num": "11"}
   ]},
   "layer": [
    {"mark": {"type": "text", "align": "right", "baseline": "alphabetic", "dx": 23.5, "fontSize": 22, "color": "#1a1a1a"},
     "encoding": {"x": {"field": "center", "type": "quantitative"}, "y": {"field": "y", "type": "quantitative"}, "text": {"field": "pre"}}},
    {"mark": {"type": "text", "align": "left", "baseline": "alphabetic", "dx": 29.6, "fontSize": 22, "fontWeight": "bold", "color": "#1a1a1a"},
     "encoding": {"x": {"field": "center", "type": "quantitative"}, "y": {"field": "y", "type": "quantitative"}, "text": {"field": "num"}}}
   ]
  }
 ]
},
{
 "width": 421.8, "height": 613,
 "title": {"text": "(b)", "anchor": "start", "frame": "group", "orient": "top", "offset": 0, "dx": -128, "dy": 138, "baseline": "alphabetic", "fontSize": 25},
 "layer": [
  {
   "data": {"values": [{"v": 0}, {"v": 5}, {"v": 10}, {"v": 15}, {"v": 20}, {"v": 25}]},
   "mark": {"type": "rule", "color": "#e2e2e2", "strokeWidth": 1},
   "encoding": {"x": {"field": "v", "type": "quantitative"}, "y": {"datum": 0, "type": "quantitative"}, "y2": {"datum": 25}}
  },
  {
   "data": {"values": [{"v": 0}, {"v": 5}, {"v": 10}, {"v": 15}, {"v": 20}, {"v": 25}]},
   "mark": {"type": "rule", "color": "#e2e2e2", "strokeWidth": 1},
   "encoding": {"y": {"field": "v", "type": "quantitative"}, "x": {"datum": 0, "type": "quantitative"}, "x2": {"datum": 25}}
  },
  {
   "data": {"name": "scatter"},
   "mark": {"type": "point", "filled": true, "size": 34, "color": "#5b5f60", "opacity": 1},
   "encoding": {
    "x": {"field": "c17", "type": "quantitative", "scale": {"domain": [-3.77, 25], "nice": false, "zero": false},
     "axis": {"values": [0, 5, 10, 15, 20, 25], "offset": -158.7, "domain": false, "ticks": false, "tickSize": 0, "grid": false, "labelOverlap": false, "labelFlush": false, "labelPadding": 4.5, "labelFontSize": 22,
      "title": "log₂(norm. count + 1)", "titleFontSize": 26, "titleX": 241, "titleY": 83.4, "titleBaseline": "alphabetic", "titleAlign": "center"}},
    "y": {"field": "c11", "type": "quantitative", "scale": {"domain": [-12.048, 34.49], "nice": false, "zero": false},
     "axis": {"values": [0, 5, 10, 15, 20, 25], "offset": -55.27, "domain": false, "ticks": false, "tickSize": 0, "grid": false, "labelOverlap": false, "labelPadding": 5.5, "labelFontSize": 22,
      "title": "log₂(norm. count + 1)", "titleFontSize": 26, "titleX": -47.3, "titleY": 292.7, "titleAngle": 270, "titleBaseline": "alphabetic", "titleAlign": "center"}}
   }
  },
  {
   "data": {"values": [{"c17": 4.22, "c11": 7.28, "gene": "Bs-preQ1-RS"}]},
   "mark": {"type": "point", "filled": true, "size": 34, "color": "#d40000", "opacity": 1},
   "encoding": {"x": {"field": "c17", "type": "quantitative"}, "y": {"field": "c11", "type": "quantitative"}}
  },
  {
   "data": {"values": [{"c17": 6.09, "c11": 11.63, "c17_end": 4.72, "c11_end": 8.46}]},
   "mark": {"type": "rule", "color": "#c00000", "strokeWidth": 1.8},
   "encoding": {"x": {"field": "c17", "type": "quantitative"}, "y": {"field": "c11", "type": "quantitative"}, "x2": {"field": "c17_end"}, "y2": {"field": "c11_end"}}
  },
  {
   "data": {"values": [{"c17": 4.72, "c11": 8.46}]},
   "mark": {"type": "point", "shape": "triangle-up", "filled": true, "size": 70, "angle": 205.6, "color": "#c00000", "opacity": 1},
   "encoding": {"x": {"field": "c17", "type": "quantitative"}, "y": {"field": "c11", "type": "quantitative"}}
  },
  {
   "data": {"values": [{"c17": 3.95, "c11": 12.26, "species": "Bs", "rest": "-preQ₁-RS"}]},
   "layer": [
    {"mark": {"type": "text", "align": "right", "baseline": "alphabetic", "dx": -0.5, "fontSize": 21, "fontWeight": "bold", "fontStyle": "italic", "color": "#c00000"},
     "encoding": {"x": {"field": "c17", "type": "quantitative"}, "y": {"field": "c11", "type": "quantitative"}, "text": {"field": "species"}}},
    {"mark": {"type": "text", "align": "left", "baseline": "alphabetic", "dx": 0.5, "fontSize": 21, "fontWeight": "bold", "color": "#c00000"},
     "encoding": {"x": {"field": "c17", "type": "quantitative"}, "y": {"field": "c11", "type": "quantitative"}, "text": {"field": "rest"}}}
   ]
  },
  {
   "data": {"values": [{"c17": 12.5, "c11": -4.1, "pre": "+ Compound", "num": "17"}]},
   "layer": [
    {"mark": {"type": "text", "align": "right", "baseline": "alphabetic", "dx": 56.7, "fontSize": 26, "color": "#1a1a1a"},
     "encoding": {"x": {"field": "c17", "type": "quantitative"}, "y": {"field": "c11", "type": "quantitative"}, "text": {"field": "pre"}}},
    {"mark": {"type": "text", "align": "left", "baseline": "alphabetic", "dx": 63.9, "fontSize": 26, "fontWeight": "bold", "color": "#1a1a1a"},
     "encoding": {"x": {"field": "c17", "type": "quantitative"}, "y": {"field": "c11", "type": "quantitative"}, "text": {"field": "num"}}}
   ]
  },
  {
   "data": {"values": [{"c17": -5.2, "c11": 12.65, "pre": "+ Compound", "num": "11"}]},
   "layer": [
    {"mark": {"type": "text", "align": "right", "baseline": "alphabetic", "angle": 270, "dx": 56.7, "fontSize": 26, "color": "#1a1a1a"},
     "encoding": {"x": {"field": "c17", "type": "quantitative"}, "y": {"field": "c11", "type": "quantitative"}, "text": {"field": "pre"}}},
    {"mark": {"type": "text", "align": "left", "baseline": "alphabetic", "angle": 270, "dx": 63.9, "fontSize": 26, "fontWeight": "bold", "color": "#1a1a1a"},
     "encoding": {"x": {"field": "c17", "type": "quantitative"}, "y": {"field": "c11", "type": "quantitative"}, "text": {"field": "num"}}}
   ]
  }
 ]
},
{
 "width": 508, "height": 335,
 "title": {"text": "(c)", "anchor": "start", "frame": "group", "orient": "top", "offset": 0, "dx": -130, "dy": 36.5, "baseline": "alphabetic", "fontSize": 25},
 "layer": [
  {
   "data": {"values": [{"v": -3.75}, {"v": -1.25}, {"v": 1.25}, {"v": 3.75}]},
   "mark": {"type": "rule", "color": "#efefef", "strokeWidth": 1},
   "encoding": {"x": {"field": "v", "type": "quantitative"}}
  },
  {
   "data": {"values": [{"v": 5}, {"v": 15}, {"v": 25}]},
   "mark": {"type": "rule", "color": "#efefef", "strokeWidth": 1},
   "encoding": {"y": {"field": "v", "type": "quantitative"}}
  },
  {
   "data": {"name": "volcano_ns"},
   "mark": {"type": "point", "filled": true, "size": 32, "opacity": 0.5, "color": "#4d4d4d"},
   "encoding": {
    "x": {"field": "lfc", "type": "quantitative", "scale": {"domain": [-5.48, 5.468], "nice": false, "zero": false},
     "axis": {"values": [-5, -2.5, 0, 2.5, 5], "format": ".1f", "domain": true, "domainColor": "#1a1a1a", "domainWidth": 1.4, "ticks": true, "tickColor": "#1a1a1a", "tickSize": 6, "tickWidth": 1.2,
      "labelOverlap": false, "labelFlush": false, "labelPadding": 3, "labelFontSize": 24, "grid": true, "gridColor": "#ebebeb", "gridWidth": 1.6,
      "title": "log₂(Fold-change)", "titleFontSize": 26, "titleX": 260, "titleY": 55, "titleBaseline": "alphabetic", "titleAlign": "center"}},
    "y": {"field": "nlp", "type": "quantitative", "scale": {"domain": [-1.2, 26.7], "nice": false, "zero": false},
     "axis": {"values": [0, 10, 20], "domain": true, "domainColor": "#1a1a1a", "domainWidth": 1.4, "ticks": true, "tickColor": "#1a1a1a", "tickSize": 6, "tickWidth": 1.2,
      "labelOverlap": false, "labelPadding": 3, "labelFontSize": 24, "grid": true, "gridColor": "#ebebeb", "gridWidth": 1.6,
      "title": "−log₁₀P", "titleFontSize": 26, "titleX": -50, "titleY": 168, "titleAngle": 270, "titleBaseline": "alphabetic", "titleAlign": "center"}}
   }
  },
  {
   "data": {"name": "volcano_fc"},
   "mark": {"type": "point", "filled": true, "size": 30, "opacity": 0.5, "color": "#228b22"},
   "encoding": {"x": {"field": "lfc", "type": "quantitative"}, "y": {"field": "nlp", "type": "quantitative"}}
  },
  {
   "data": {"name": "volcano_pfc"},
   "mark": {"type": "point", "filled": true, "size": 30, "opacity": 0.5, "color": "#ee0000"},
   "encoding": {"x": {"field": "lfc", "type": "quantitative"}, "y": {"field": "nlp", "type": "quantitative"}}
  },
  {
   "data": {"values": [{"v": -1}, {"v": 1}]},
   "mark": {"type": "rule", "color": "#222222", "strokeWidth": 0.9, "strokeDash": [4, 3]},
   "encoding": {"x": {"field": "v", "type": "quantitative"}}
  },
  {
   "data": {"values": [{"v": 5}]},
   "mark": {"type": "rule", "color": "#222222", "strokeWidth": 0.9, "strokeDash": [4, 3]},
   "encoding": {"y": {"field": "v", "type": "quantitative"}}
  },
  {
   "data": {"values": [{"lfc": 3.42, "nlp": 22.42, "lfc_end": 3.13, "nlp_end": 21.24}]},
   "mark": {"type": "rule", "color": "#b80000", "strokeWidth": 1.8},
   "encoding": {"x": {"field": "lfc", "type": "quantitative"}, "y": {"field": "nlp", "type": "quantitative"}, "x2": {"field": "lfc_end"}, "y2": {"field": "nlp_end"}}
  },
  {
   "data": {"values": [{"lfc": 3.13, "nlp": 21.24}]},
   "mark": {"type": "point", "shape": "triangle-up", "filled": true, "size": 60, "angle": 223.2, "color": "#b80000", "opacity": 1},
   "encoding": {"x": {"field": "lfc", "type": "quantitative"}, "y": {"field": "nlp", "type": "quantitative"}}
  },
  {
   "data": {"values": [{"lfc": 2.9, "nlp": 22.83, "species": "Bs", "rest": "-preQ₁-RS"}]},
   "layer": [
    {"mark": {"type": "text", "align": "right", "baseline": "alphabetic", "dx": -0.5, "fontSize": 20, "fontWeight": "bold", "fontStyle": "italic", "color": "#b80000"},
     "encoding": {"x": {"field": "lfc", "type": "quantitative"}, "y": {"field": "nlp", "type": "quantitative"}, "text": {"field": "species"}}},
    {"mark": {"type": "text", "align": "left", "baseline": "alphabetic", "dx": 0.5, "fontSize": 20, "fontWeight": "bold", "color": "#b80000"},
     "encoding": {"x": {"field": "lfc", "type": "quantitative"}, "y": {"field": "nlp", "type": "quantitative"}, "text": {"field": "rest"}}}
   ]
  }
 ]
}
]
}
